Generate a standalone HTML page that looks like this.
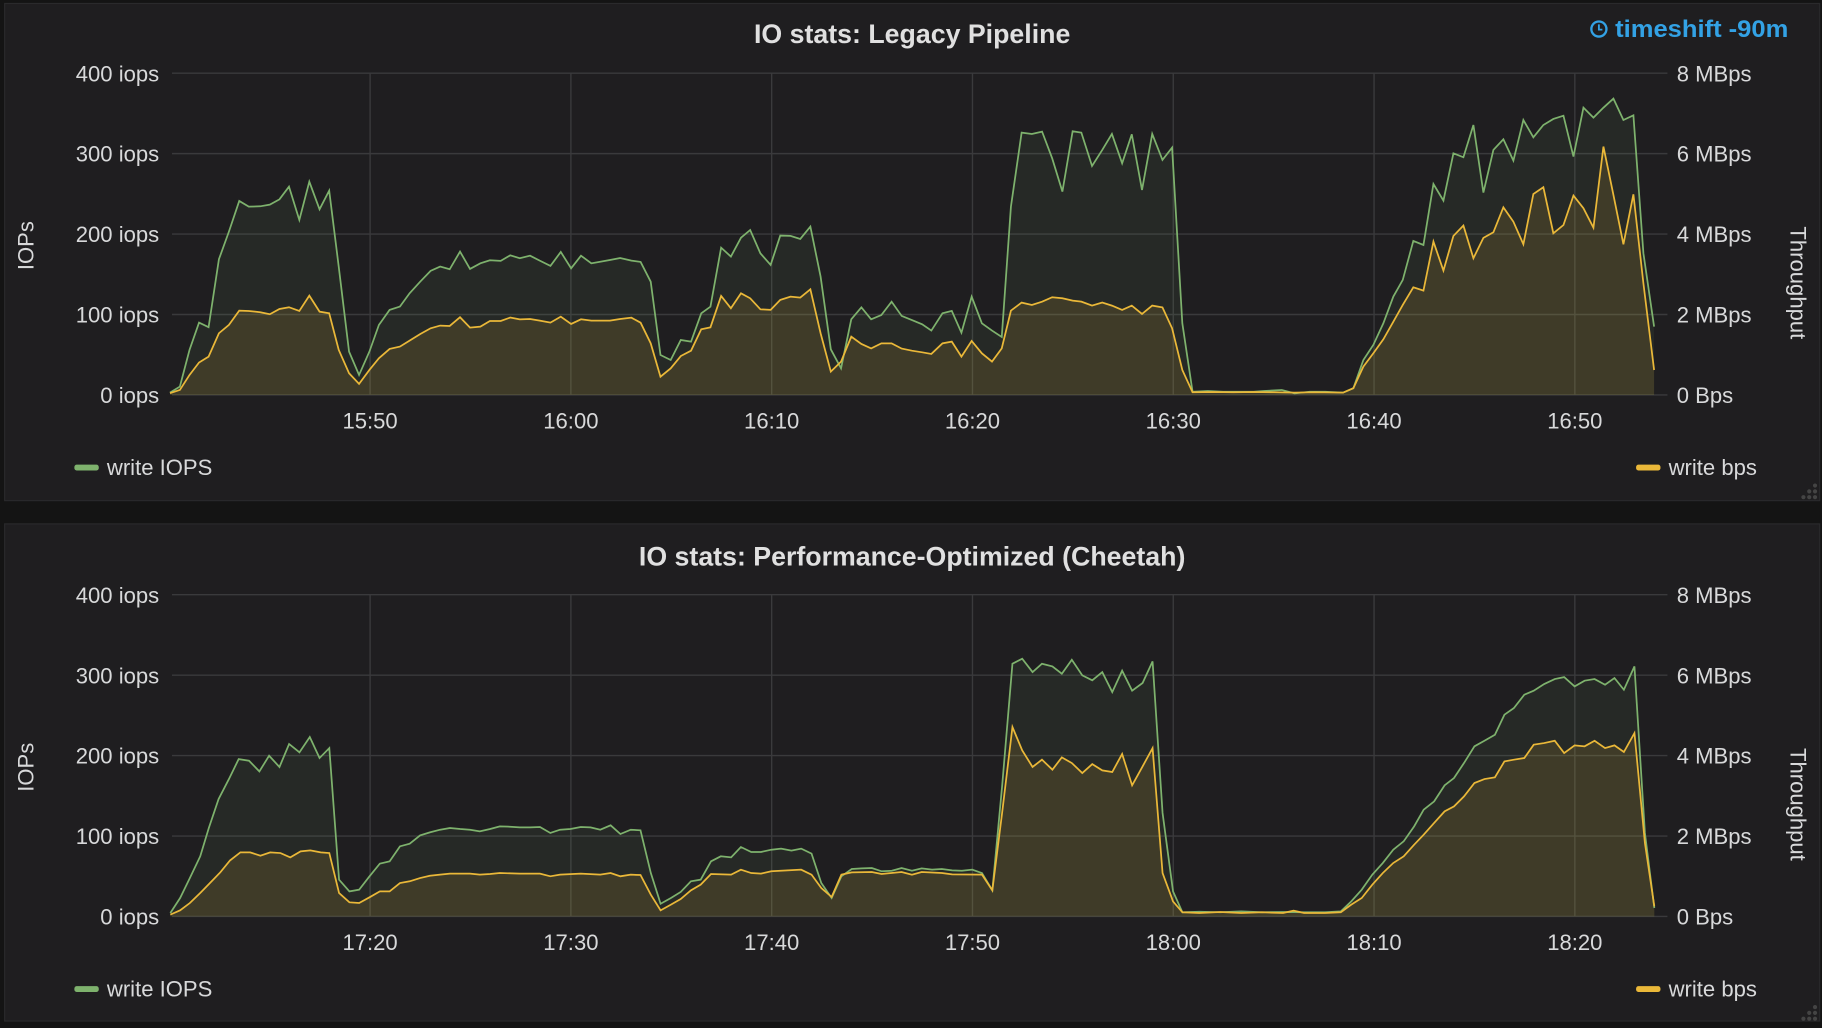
<!DOCTYPE html>
<html><head><meta charset="utf-8"><style>
html,body{margin:0;padding:0;background:#141414;}
svg{display:block;}
text{font-family:"Liberation Sans",sans-serif;fill:#d8d9da;}
</style></head><body>
<svg id="s" width="1822" height="1028" viewBox="0 0 1568 885" preserveAspectRatio="none" xmlns="http://www.w3.org/2000/svg">
<rect x="0" y="0" width="1568" height="885" fill="#141414"/>
<rect x="4" y="3" width="1562" height="428" fill="#1f1e20" stroke="#2a2a2c" stroke-width="1"/>
<rect x="4" y="451" width="1562" height="428" fill="#1f1e20" stroke="#2a2a2c" stroke-width="1"/>
<g id="g1"></g><g id="g2"></g>
<text x="785" y="37" text-anchor="middle" font-size="23" font-weight="bold" style="fill:#e0e0e0">IO stats: Legacy Pipeline</text>
<text x="785" y="487" text-anchor="middle" font-size="23" font-weight="bold" style="fill:#e0e0e0">IO stats: Performance-Optimized (Cheetah)</text>
<circle cx="1376" cy="25" r="6.5" fill="none" stroke="#33a2e5" stroke-width="2"/>
<path d="M1376 21 V25.5 H1379" stroke="#33a2e5" stroke-width="1.6" fill="none"/>
<text x="1539" y="32" text-anchor="end" font-size="21" font-weight="bold" textLength="149" lengthAdjust="spacingAndGlyphs" style="fill:#33a2e5">timeshift -90m</text>
</svg>
<script>
var NS="http://www.w3.org/2000/svg";
function el(p,t,a,txt){var e=document.createElementNS(NS,t);for(var k in a)e.setAttribute(k,a[k]);if(txt)e.textContent=txt;p.appendChild(e);return e;}
function mp(arr,ox,sx,oy,sy){var r=[];for(var i=0;i<arr.length;i+=2)r.push([ox+arr[i]*sx,oy+arr[i+1]*sy]);return r;}
var z1g=[444,1178,470,1160,495,1050,520,968,545,982,572,778,598,695,625,603,650,620,680,619,705,614,730,598,755,560,782,660,808,545,835,628,860,572,885,800,912,1055,938,1125,965,1055,990,975,1018,930,1045,920,1070,880,1098,845,1125,813,1150,800,1175,808,1202,755,1228,807,1255,790,1280,781,1308,783,1333,766,1358,775,1385,767,1410,782,1438,798,1465,756,1492,805,1518,767,1545,790];
var z1y=[444,1180,470,1170,495,1125,520,1088,545,1070,572,1000,598,975,625,932,650,933,680,937,705,943,730,927,755,922,782,933,808,887,835,935,860,940,885,1050,912,1120,938,1152,965,1110,990,1075,1018,1047,1045,1040,1070,1022,1098,1002,1125,985,1150,977,1175,978,1202,952,1228,983,1255,980,1280,963,1308,963,1333,953,1358,958,1385,957,1410,962,1438,968,1465,950,1492,972,1518,958,1545,962];
var z3g=[98,600,118,594,140,602,158,606,178,665,197,885,217,900,237,840,257,845,277,760,295,740,316,563,335,590,355,533,373,510,393,580,413,615,432,527,452,528,471,537,491,500,511,650,531,868,551,925,571,778,591,742,610,778,630,765,650,725,670,768,690,780,710,793,728,812,750,760,768,753,787,818,807,710,827,790,847,812,866,831,884,440,905,218,925,222,945,215,965,295,985,395,1005,214,1022,218,1043,318,1063,270,1082,222,1102,310,1121,223,1141,390,1161,222,1181,300,1200,263,1220,790,1240,995,1270,993,1300,995,1330,995,1360,995,1380,993,1415,990,1440,1000,1470,995,1500,995,1535,998];
var z3y=[98,782,118,777,140,773,158,788,178,850,197,950,217,925,237,888,257,872,277,808,295,802,316,708,335,745,355,700,373,715,393,748,413,750,432,720,452,710,471,713,491,688,511,820,531,935,551,905,571,830,591,852,610,865,630,850,650,850,670,866,690,872,710,877,728,882,750,850,768,845,787,890,807,843,827,880,847,905,866,865,884,752,905,728,925,735,945,725,965,712,985,715,1005,722,1022,725,1043,737,1063,728,1082,737,1102,750,1121,737,1141,762,1161,737,1181,742,1200,805,1220,930,1240,997,1280,996,1320,997,1360,996,1400,997,1440,998,1480,997,1535,998];
var z2g=[160,1165,190,1080,220,1035,250,970,280,890,308,840,340,723,370,735,400,552,430,602,460,460,490,472,520,375,550,578,580,450,610,418,640,482,670,360,700,412,730,375,760,357,790,347,820,470,850,323,880,353,910,323,940,296,970,360,1000,346,1030,760,1062,980];
var z2y=[160,1165,190,1100,220,1060,250,1018,280,965,308,915,340,862,370,872,400,725,430,812,460,708,490,677,520,775,550,714,580,697,610,622,640,665,670,733,700,582,730,562,760,700,790,675,820,587,850,625,880,683,910,440,940,585,970,733,1000,583,1030,850,1062,1110];
var p1g=mp(z1g,0,0.3294,0,0.2869).concat(mp(z3g,481.9,0.439,51.6,0.287)).concat(mp(z2g,1118.8,0.2869,0,0.2869));
var p1y=mp(z1y,0,0.3294,0,0.2869).concat(mp(z3y,481.9,0.439,51.6,0.287)).concat(mp(z2y,1118.8,0.2869,0,0.2869));
var z4g=[18,1000,35,955,52,895,70,830,85,745,102,658,120,598,137,538,155,543,173,575,190,528,208,562,225,493,243,518,261,472,278,535,295,505,312,900,330,935,347,930,365,890,383,852,400,845,418,800,435,792,453,767,470,758,488,750,505,745,523,748,540,750,557,755,575,748,592,740,610,741,627,743,645,743,662,742,680,760,697,750,715,748,733,742,750,743,767,750,785,737,802,763,820,750,837,752,855,880,872,972,890,955,907,937,925,905,942,900,960,845,977,830,995,833,1012,802,1030,817,1047,817,1065,810,1082,807,1100,813,1117,807,1135,822,1152,910,1170,955,1187,890,1205,868,1222,866,1240,865,1257,875,1275,873,1292,865,1310,873,1327,866,1345,870,1362,868,1380,872,1397,873,1415,870,1432,880,1450,932,1467,620,1485,252,1502,237,1520,277];
var z4y=[18,1005,35,992,52,970,70,940,87,910,105,878,122,842,140,818,157,818,175,828,192,818,210,820,227,833,245,815,262,812,280,818,295,820,312,940,330,968,347,970,365,953,383,935,400,935,418,910,435,905,453,895,470,888,488,885,505,882,540,882,557,885,575,883,592,880,627,882,662,882,680,890,697,885,733,882,767,885,785,880,802,890,820,885,837,886,855,945,872,992,890,975,907,958,925,932,942,915,960,883,995,885,1012,870,1030,880,1047,882,1065,875,1117,870,1135,885,1152,925,1170,952,1187,885,1205,878,1240,877,1257,883,1292,877,1310,885,1327,877,1362,880,1380,884,1432,885,1450,932,1467,700,1485,442,1502,512,1520,562];
var z5g=[80,252,100,260,118,282,137,240,157,287,176,302,195,277,214,337,233,273,252,333,272,310,291,245,310,700,330,935,348,998,380,996,420,998,460,995,500,998,540,997,580,998,620,998,650,995,670,965,690,930,710,885,730,850,750,810,770,785,790,740,808,690,828,665,848,617,866,595,885,550,905,500,924,483,944,465,962,405,980,385,1000,345,1018,333,1038,313,1058,298,1076,292,1096,320,1115,303,1134,298,1154,315,1172,295,1190,330,1210,260,1230,760,1248,985];
var z5y=[80,540,100,570,118,533,137,550,157,580,176,553,195,572,214,577,233,523,252,617,272,560,291,505,310,880,330,965,348,998,380,1000,420,997,460,1000,500,998,540,1000,560,993,580,1000,620,1000,650,998,670,975,690,955,710,915,730,880,750,850,770,830,790,795,808,765,828,730,848,695,866,680,885,650,905,610,924,598,944,593,962,545,980,540,1000,535,1018,495,1038,490,1058,483,1076,520,1096,497,1115,500,1134,483,1154,505,1172,497,1190,517,1210,460,1230,790,1248,980];
var p2g=mp(z4g,137.7,0.494,499.1,0.2869).concat(mp(z5g,860.6,0.4512,499.1,0.2869));
var p2y=mp(z4y,137.7,0.494,499.1,0.2869).concat(mp(z5y,860.6,0.4512,499.1,0.2869));
function panel(g,top,bot,lbl,pg,py){
  var h=(bot-top)/4, L=148, R=1435, xs=[318.5,491.3,664.1,836.9,1009.7,1182.5,1355.3];
  for(var i=0;i<=4;i++){var y=top+i*h;el(g,"line",{x1:L,x2:R,y1:y,y2:y,stroke:"#3a3a3c","stroke-width":1.2});
    el(g,"text",{x:137,y:y+7,"text-anchor":"end","font-size":19},(400-i*100)+" iops");
    el(g,"text",{x:1443,y:y+7,"font-size":19},i==4?"0 Bps":(8-i*2)+" MBps");}
  xs.forEach(function(x,i){el(g,"line",{x1:x,x2:x,y1:top,y2:bot,stroke:"#3a3a3c","stroke-width":1.2});
    el(g,"text",{x:x,y:bot+29,"text-anchor":"middle","font-size":19},lbl[i]);});
  function path(p){return "M"+p.map(function(q){return q[0].toFixed(1)+" "+q[1].toFixed(1);}).join(" L");}
  function area(p){return path(p)+" L"+p[p.length-1][0].toFixed(1)+" "+bot+" L"+p[0][0].toFixed(1)+" "+bot+"Z";}
  el(g,"path",{d:area(pg),fill:"rgba(126,178,109,0.08)"});
  el(g,"path",{d:area(py),fill:"rgba(234,184,57,0.13)"});
  el(g,"path",{d:path(pg),fill:"none",stroke:"#7eb26d","stroke-width":1.5});
  el(g,"path",{d:path(py),fill:"none",stroke:"#eab839","stroke-width":1.5});
  var cy=(top+bot)/2;
  el(g,"text",{x:0,y:0,"font-size":19,"text-anchor":"middle",transform:"translate(29 "+(cy+10)+") rotate(-90)"},"IOPs");
  el(g,"text",{x:0,y:0,"font-size":19,"text-anchor":"middle",transform:"translate(1541 "+(cy+42)+") rotate(90)"},"Throughput");
  el(g,"rect",{x:64,y:bot+60,width:21,height:5,rx:2,fill:"#7eb26d"});
  el(g,"text",{x:92,y:bot+69,"font-size":19},"write IOPS");
  el(g,"rect",{x:1408,y:bot+60,width:21,height:5,rx:2,fill:"#eab839"});
  el(g,"text",{x:1436,y:bot+69,"font-size":19},"write bps");
  var by=bot+88;[[1562,0],[1557,0],[1552,0],[1562,-5],[1557,-5],[1562,-10]].forEach(function(d){el(g,"circle",{cx:d[0],cy:by+d[1],r:1.8,fill:"#444"});});
}
panel(document.getElementById("g1"),63,340,["15:50","16:00","16:10","16:20","16:30","16:40","16:50"],p1g,p1y);
panel(document.getElementById("g2"),512,789,["17:20","17:30","17:40","17:50","18:00","18:10","18:20"],p2g,p2y);
</script>
</body></html>
